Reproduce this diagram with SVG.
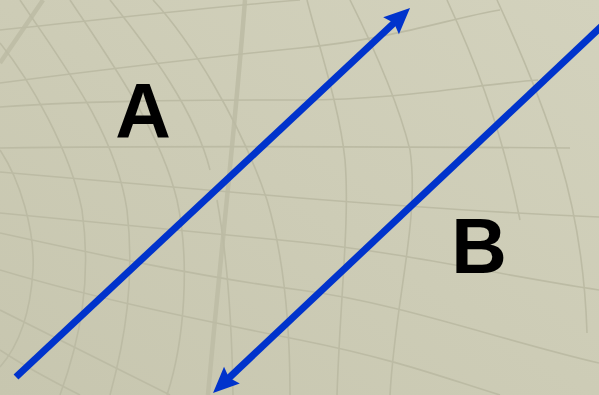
<svg xmlns="http://www.w3.org/2000/svg" width="599" height="395" viewBox="0 0 599 395">
<defs>
<linearGradient id="bg" x1="1" y1="0" x2="0" y2="1">
<stop offset="0" stop-color="#d3d2bd"/>
<stop offset="1" stop-color="#c7c6af"/>
</linearGradient>
<marker id="head" markerUnits="userSpaceOnUse" markerWidth="40" markerHeight="30" viewBox="-12 -15 40 30" refX="0" refY="0" orient="auto">
<path d="M18,0 L-8,-11.5 L-4,0 L-8,11.5 Z" fill="#0033cc"/>
</marker>
<style>
.g{fill:none;stroke:#bcbba4;stroke-width:1.6}
.gt{fill:none;stroke:#bfbea7;stroke-width:4.5}
.c{fill:none;stroke:#0033cc;stroke-width:7;marker-end:url(#head)}
.t{font-family:"Liberation Sans",Arial,sans-serif;font-weight:bold;font-size:77px;fill:#000;text-anchor:middle}
</style>
</defs>
<rect width="599" height="395" fill="url(#bg)"/>
<g id="grid">
<path class="gt" d="M43,0 L0,63"/>
<path class="gt" d="M245,0 C235,130 220,260 208,395"/>
<path class="g" d="M0,30 C100,20 200,8 300,0"/>
<path class="g" d="M0,83 C100,70 200,58 300,48 S450,18 500,10"/>
<path class="g" d="M0,107 C100,100 200,100 300,100 S480,84 538,80"/>
<path class="g" d="M0,148 C150,146 300,146 570,148"/>
<path class="g" d="M0,172 C100,180 200,190 300,198 S500,213 599,217"/>
<path class="g" d="M0,213 C100,222 200,232 300,242 S500,275 599,290"/>
<path class="g" d="M0,233 C100,255 200,277 300,290 S500,340 599,363"/>
<path class="g" d="M0,270 C100,300 200,320 300,340 S450,380 500,395"/>
<path class="g" d="M0,310 C60,340 120,370 170,395"/>
<path class="g" d="M0,350 C30,370 60,385 80,395"/>
<path class="g" d="M0,150 C20,180 35,230 33,270 C30,320 15,350 0,367"/>
<path class="g" d="M0,43 C30,80 70,150 82,210 C92,280 80,340 60,395"/>
<path class="g" d="M20,0 C60,60 115,130 127,210 C135,280 125,340 110,395"/>
<path class="g" d="M70,0 C110,60 160,130 177,200 C190,260 185,340 167,395"/>
<path class="g" d="M110,0 C150,50 195,110 210,170"/>
<path class="g" d="M153,0 C190,40 240,120 267,200 C285,260 290,330 290,395"/>
<path class="g" d="M217,200 C228,260 232,330 233,395"/>
<path class="g" d="M307,0 C320,50 340,110 345,160 C350,220 340,300 337,395"/>
<path class="g" d="M350,0 C380,60 400,110 410,150 C420,220 395,300 390,395"/>
<path class="g" d="M447,0 C470,50 500,120 520,220"/>
<path class="g" d="M497,0 C520,50 545,110 560,160 C575,210 585,270 587,333"/>
</g>
<g id="connectors">
<path class="c" d="M16,377 L396.9,20.3"/>
<path class="c" d="M606,22 L226.1,380.6"/>
</g>
<g id="label-A"><text class="t" x="143" y="138">A</text></g>
<g id="label-B"><text class="t" x="479" y="273">B</text></g>
</svg>
